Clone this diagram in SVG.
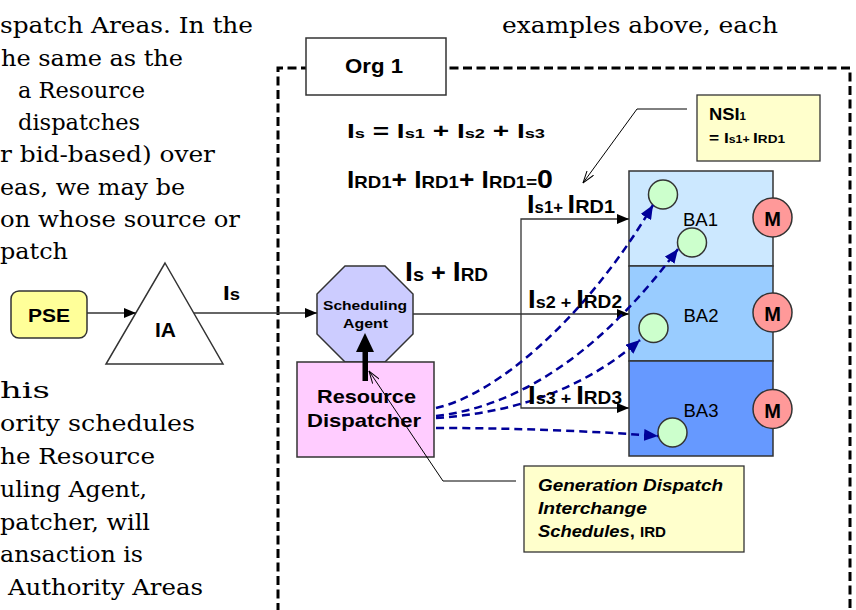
<svg xmlns="http://www.w3.org/2000/svg" width="856" height="610" viewBox="0 0 856 610">
<style>
.body{font-family:"DejaVu Serif","Liberation Serif",serif;font-size:22px;fill:#000}
.lbl{font-family:"Liberation Sans",Arial,sans-serif;font-weight:bold;fill:#000}
.reg{font-family:"Liberation Sans",Arial,sans-serif;fill:#000}
.node{stroke:#333;stroke-width:1.5}
.conn{fill:none;stroke:#333;stroke-width:1.3}
.call{fill:none;stroke:#000;stroke-width:1}
.blue{fill:none;stroke:#000099;stroke-width:2.5;stroke-dasharray:8 5}
.org{fill:none;stroke:#000;stroke-width:3;stroke-dasharray:9 4.5}
</style>
<defs>
<marker id="ah" viewBox="0 0 12 10" refX="12" refY="5" markerWidth="12" markerHeight="10" markerUnits="userSpaceOnUse" orient="auto"><path d="M0,0 L12,5 L0,10 z" fill="#000"/></marker>
<marker id="bh" viewBox="0 0 14 12" refX="14" refY="6" markerWidth="14" markerHeight="12" markerUnits="userSpaceOnUse" orient="auto"><path d="M0,0 L14,6 L0,12 z" fill="#000099"/></marker>
<marker id="oh" viewBox="0 0 13 9" refX="12.5" refY="4.5" markerWidth="13" markerHeight="9" markerUnits="userSpaceOnUse" orient="auto"><path d="M0,0.5 L12.5,4.5 L0,8.5" fill="none" stroke="#000" stroke-width="1"/></marker>
</defs>
<rect width="856" height="610" fill="#fff"/>

<g id="body-text">
<text class="body" x="0" y="33" textLength="253" lengthAdjust="spacingAndGlyphs">spatch Areas. In the</text>
<text class="body" x="1" y="66" textLength="182" lengthAdjust="spacingAndGlyphs">he same as the</text>
<text class="body" x="18" y="98" textLength="127" lengthAdjust="spacingAndGlyphs">a Resource</text>
<text class="body" x="18" y="130" textLength="122" lengthAdjust="spacingAndGlyphs">dispatches</text>
<text class="body" x="0" y="162" textLength="215" lengthAdjust="spacingAndGlyphs">r bid-based) over</text>
<text class="body" x="0" y="195" textLength="185" lengthAdjust="spacingAndGlyphs">eas, we may be</text>
<text class="body" x="0" y="227" textLength="240" lengthAdjust="spacingAndGlyphs">on whose source or</text>
<text class="body" x="0" y="259" textLength="68" lengthAdjust="spacingAndGlyphs">patch</text>
<text class="body" x="0" y="398" textLength="50" lengthAdjust="spacingAndGlyphs">his</text>
<text class="body" x="0" y="431" textLength="195" lengthAdjust="spacingAndGlyphs">ority schedules</text>
<text class="body" x="0" y="464" textLength="155" lengthAdjust="spacingAndGlyphs">he Resource</text>
<text class="body" x="0" y="497" textLength="147" lengthAdjust="spacingAndGlyphs">uling Agent,</text>
<text class="body" x="0" y="530" textLength="150" lengthAdjust="spacingAndGlyphs">patcher, will</text>
<text class="body" x="0" y="562" textLength="143" lengthAdjust="spacingAndGlyphs">ansaction is</text>
<text class="body" x="8" y="595" textLength="195" lengthAdjust="spacingAndGlyphs">Authority Areas</text>
<text class="body" x="502" y="33" textLength="276" lengthAdjust="spacingAndGlyphs">examples above, each</text>
</g>

<g id="org1-boundary">
<path class="org" d="M278,612 V68 H850 V612"/>
</g>
<g id="org1-label">
<rect x="306" y="38" width="140" height="57" fill="#fff" stroke="#333" stroke-width="1.5"/>
<text class="lbl" x="345" y="73" font-size="20" textLength="58" lengthAdjust="spacingAndGlyphs">Org 1</text>
</g>

<g id="equations">
<text class="lbl" x="347" y="138" textLength="198" lengthAdjust="spacingAndGlyphs"><tspan font-size="20">I</tspan><tspan font-size="13">s</tspan><tspan font-size="20"> = I</tspan><tspan font-size="13">s1</tspan><tspan font-size="20"> + I</tspan><tspan font-size="13">s2</tspan><tspan font-size="20"> + I</tspan><tspan font-size="13">s3</tspan></text>
<text class="lbl" x="347" y="188" textLength="206" lengthAdjust="spacingAndGlyphs"><tspan font-size="24">I</tspan><tspan font-size="17">RD1</tspan><tspan font-size="24">+ I</tspan><tspan font-size="17">RD1</tspan><tspan font-size="24">+ I</tspan><tspan font-size="17">RD1=</tspan><tspan font-size="26">0</tspan></text>
</g>

<g id="pse">
<rect class="node" x="11" y="291" width="76" height="47" rx="8" fill="#FFFF99"/>
<text class="lbl" x="49" y="322" font-size="19" text-anchor="middle" textLength="42" lengthAdjust="spacingAndGlyphs">PSE</text>
</g>

<g id="ia">
<polygon class="node" points="165,263 223,364 106,364" fill="#fff"/>
<text class="lbl" x="165.5" y="337" font-size="20" text-anchor="middle" textLength="21" lengthAdjust="spacingAndGlyphs">IA</text>
</g>

<g id="scheduling-agent">
<polygon class="node" points="345,266 385,266 413,294 413,334 385,362 345,362 317,334 317,294" fill="#CCCCFF"/>
<text class="lbl" x="365" y="310" font-size="13" text-anchor="middle" textLength="84" lengthAdjust="spacingAndGlyphs">Scheduling</text>
<text class="lbl" x="365.5" y="328" font-size="13" text-anchor="middle" textLength="45" lengthAdjust="spacingAndGlyphs">Agent</text>
</g>

<g id="resource-dispatcher">
<rect class="node" x="297" y="362" width="137" height="95" fill="#FFCCFF"/>
<text class="lbl" x="366.5" y="403" font-size="19" text-anchor="middle" textLength="99" lengthAdjust="spacingAndGlyphs">Resource</text>
<text class="lbl" x="364" y="427" font-size="19" text-anchor="middle" textLength="114" lengthAdjust="spacingAndGlyphs">Dispatcher</text>
</g>

<g id="ba1">
<rect class="node" x="629" y="171" width="144" height="95" fill="#CCE8FF"/>
<text class="reg" x="700.5" y="226" font-size="19" text-anchor="middle" textLength="35" lengthAdjust="spacingAndGlyphs">BA1</text>
<circle class="node" cx="663" cy="194.5" r="14.5" fill="#CCFFCC"/>
<circle class="node" cx="692" cy="242.5" r="14.5" fill="#CCFFCC"/>
<circle class="node" cx="772.5" cy="217.5" r="19.5" fill="#FF9999"/>
<text class="lbl" x="772.5" y="226" font-size="20" text-anchor="middle">M</text>
</g>
<g id="ba2">
<rect class="node" x="629" y="266" width="144" height="95" fill="#99CCFF"/>
<text class="reg" x="701" y="322" font-size="19" text-anchor="middle" textLength="35" lengthAdjust="spacingAndGlyphs">BA2</text>
<circle class="node" cx="653.5" cy="328" r="14.5" fill="#CCFFCC"/>
<circle class="node" cx="772.5" cy="312.5" r="19.5" fill="#FF9999"/>
<text class="lbl" x="772.5" y="321" font-size="20" text-anchor="middle">M</text>
</g>
<g id="ba3">
<rect class="node" x="629" y="361" width="144" height="95" fill="#6699FF"/>
<text class="reg" x="701" y="417" font-size="19" text-anchor="middle" textLength="35" lengthAdjust="spacingAndGlyphs">BA3</text>
<circle class="node" cx="672.5" cy="432.5" r="14.5" fill="#CCFFCC"/>
<circle class="node" cx="772.5" cy="409" r="19.5" fill="#FF9999"/>
<text class="lbl" x="772.5" y="417.5" font-size="20" text-anchor="middle">M</text>
</g>

<g id="nsi-note">
<rect x="697" y="95" width="123" height="66" fill="#FFFFCC" stroke="#333" stroke-width="1.3"/>
<text class="lbl" x="709" y="120" textLength="37" lengthAdjust="spacingAndGlyphs"><tspan font-size="16">NSI</tspan><tspan font-size="10">1</tspan></text>
<text class="lbl" x="709" y="143" textLength="76" lengthAdjust="spacingAndGlyphs"><tspan font-size="14">= I</tspan><tspan font-size="10">s1+ </tspan><tspan font-size="14">I</tspan><tspan font-size="11">RD1</tspan></text>
</g>

<g id="gen-note">
<rect x="524" y="466" width="220" height="86" fill="#FFFFCC" stroke="#333" stroke-width="1.3"/>
<text class="lbl" x="538" y="491" font-size="17" font-style="italic" textLength="185" lengthAdjust="spacingAndGlyphs">Generation Dispatch</text>
<text class="lbl" x="538" y="514" font-size="17" font-style="italic" textLength="109" lengthAdjust="spacingAndGlyphs">Interchange</text>
<text class="lbl" x="538" y="537" textLength="128" lengthAdjust="spacingAndGlyphs"><tspan font-size="17" font-style="italic">Schedules</tspan><tspan font-size="17">, </tspan><tspan font-size="14">IRD</tspan></text>
</g>

<g id="connectors">
<line class="conn" x1="87" y1="313" x2="136" y2="313" marker-end="url(#ah)"/>
<line class="conn" x1="194" y1="313" x2="317" y2="313" marker-end="url(#ah)"/>
<line class="conn" x1="413" y1="314" x2="629" y2="314" stroke-width="2" marker-end="url(#ah)"/>
<path class="conn" d="M521,314 V219 H629" marker-end="url(#ah)"/>
<path class="conn" d="M521,314 V408 H629" marker-end="url(#ah)"/>
<rect x="362.5" y="350" width="5.5" height="31" fill="#000"/>
<polygon points="356,352 374,352 365,333" fill="#000"/>
<path class="call" d="M687,109 H637 L583,183" marker-end="url(#oh)"/>
<path class="call" d="M516,481 H443 L369,371" marker-end="url(#oh)"/>
<path class="blue" d="M436,408 C495,395 585,320 653,205" marker-end="url(#bh)"/>
<path class="blue" d="M436,416 C530,405 610,340 678,249" marker-end="url(#bh)"/>
<path class="blue" d="M436,418 C510,413 580,392 640,340" marker-end="url(#bh)"/>
<path class="blue" d="M436,428 Q550,428 658,436" marker-end="url(#bh)"/>
</g>

<g id="flow-labels">
<text class="lbl" x="223" y="300" textLength="17" lengthAdjust="spacingAndGlyphs"><tspan font-size="21">I</tspan><tspan font-size="16">s</tspan></text>
<text class="lbl" x="405" y="281" textLength="83" lengthAdjust="spacingAndGlyphs"><tspan font-size="27">I</tspan><tspan font-size="19">s</tspan><tspan font-size="24"> + </tspan><tspan font-size="27">I</tspan><tspan font-size="18">RD</tspan></text>
<text class="lbl" x="527" y="213" textLength="88" lengthAdjust="spacingAndGlyphs"><tspan font-size="26">I</tspan><tspan font-size="16">s1+ </tspan><tspan font-size="26">I</tspan><tspan font-size="19">RD1</tspan></text>
<text class="lbl" x="528" y="308" textLength="94" lengthAdjust="spacingAndGlyphs"><tspan font-size="26">I</tspan><tspan font-size="17">s2 + </tspan><tspan font-size="26">I</tspan><tspan font-size="18">RD2</tspan></text>
<text class="lbl" x="528" y="404" textLength="94" lengthAdjust="spacingAndGlyphs"><tspan font-size="26">I</tspan><tspan font-size="17">s3 + </tspan><tspan font-size="26">I</tspan><tspan font-size="18">RD3</tspan></text>
</g>
</svg>
